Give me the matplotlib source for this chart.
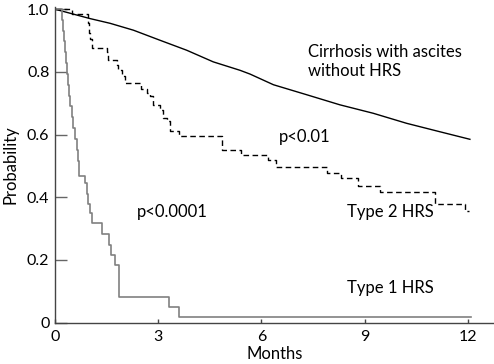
import matplotlib
matplotlib.use('Agg')
import matplotlib.pyplot as plt

# Cirrhosis with ascites without HRS (smooth curve, many patients)
t_cirr = [0, 1.02, 1.6, 2.28, 3.05, 3.83, 4.6, 5.38, 5.67, 6.35, 7.32, 8.28, 9.25, 10.22, 11.19, 12.06]
s_cirr = [1.0, 0.97, 0.955, 0.933, 0.901, 0.869, 0.832, 0.805, 0.793, 0.759, 0.727, 0.695, 0.668, 0.636, 0.609, 0.585]

# Type 2 HRS (Kaplan-Meier steps)
t_type2 = [0, 0.49, 0.95, 0.99, 1.03, 1.07, 1.50, 1.55, 1.79, 1.84, 1.94, 2.04, 2.50, 2.66, 2.76,
           2.86, 3.05, 3.15, 3.25, 3.34, 3.60, 4.84, 5.42, 6.18, 6.42, 7.90, 8.30, 8.82, 9.45,
           11.05, 11.92, 12.02]
s_type2 = [1.0, 0.985, 0.955, 0.925, 0.905, 0.877, 0.862, 0.839, 0.822, 0.807, 0.786, 0.765, 0.744,
           0.733, 0.722, 0.696, 0.68, 0.653, 0.642, 0.61, 0.594, 0.552, 0.536, 0.52, 0.497, 0.478,
           0.46, 0.435, 0.417, 0.379, 0.355, 0.355]

# Type 1 HRS (Kaplan-Meier steps)
t_type1 = [0, 0.20, 0.24, 0.27, 0.30, 0.33, 0.36, 0.38, 0.40, 0.44, 0.48, 0.53, 0.58, 0.63, 0.67,
           0.71, 0.87, 0.92, 0.97, 1.02, 1.07, 1.375, 1.57, 1.63, 1.74, 1.86, 3.32, 3.60, 12.1]
s_type1 = [1.0, 0.965, 0.93, 0.897, 0.862, 0.828, 0.793, 0.759, 0.724, 0.69, 0.655, 0.621, 0.586,
           0.552, 0.517, 0.469, 0.445, 0.41, 0.38, 0.35, 0.319, 0.283, 0.248, 0.216, 0.184, 0.083,
           0.049, 0.017, 0.017]

x_ticks = [0, 3, 6, 9, 12]
x_labels = ['0', '3', '6', '9', '12']
y_ticks = [0, 0.2, 0.4, 0.6, 0.8, 1.0]
y_labels = ['0', '0.2', '0.4', '0.6', '0.8', '1.0']

plt.rcParams['font.family'] = ['Lato', 'DejaVu Sans']

fig = plt.figure(figsize=(4.94, 3.64), dpi=100)
ax = fig.add_axes([55 / 494, 41.3 / 364, 439 / 494, 315.7 / 364])

ax.plot(t_cirr, s_cirr, color='black', lw=1.0)
ax.plot(t_type2, s_type2, color='black', lw=1.0, ls=(0, (4, 2.5)), drawstyle='steps-post')
ax.plot(t_type1, s_type1, color='#808080', lw=1.2, drawstyle='steps-post')

ax.set_xlim(0, 12.76)
ax.set_ylim(0, 1.007)

for side in ['top', 'right']:
    ax.spines[side].set_visible(False)
for side in ['left', 'bottom']:
    ax.spines[side].set_color('#444444')
    ax.spines[side].set_linewidth(1.0)

ax.set_xticks(x_ticks)
ax.set_xticklabels(x_labels)
ax.set_yticks(y_ticks)
ax.set_yticklabels(y_labels)
ax.tick_params(axis='y', direction='in', length=8.5, width=1.0, color='#666666', pad=4, labelsize=11.5)
ax.tick_params(axis='x', direction='in', length=3, width=1.0, color='#444444', pad=5, labelsize=11.5)

ax.set_xlabel('Months', fontsize=12, labelpad=2)
ax.set_ylabel('Probability', fontsize=12, labelpad=6)

fs = 12
ax.text(7.35, 0.846, 'Cirrhosis with ascites', fontsize=fs, va='baseline')
ax.text(7.35, 0.787, 'without HRS', fontsize=fs, va='baseline')
ax.text(6.51, 0.577, 'p<0.01', fontsize=fs, va='baseline')
ax.text(2.375, 0.338, 'p<0.0001', fontsize=fs, va='baseline')
ax.text(8.48, 0.338, 'Type 2 HRS', fontsize=fs, va='baseline')
ax.text(8.48, 0.094, 'Type 1 HRS', fontsize=fs, va='baseline')

fig.savefig('out.png', dpi=100)
